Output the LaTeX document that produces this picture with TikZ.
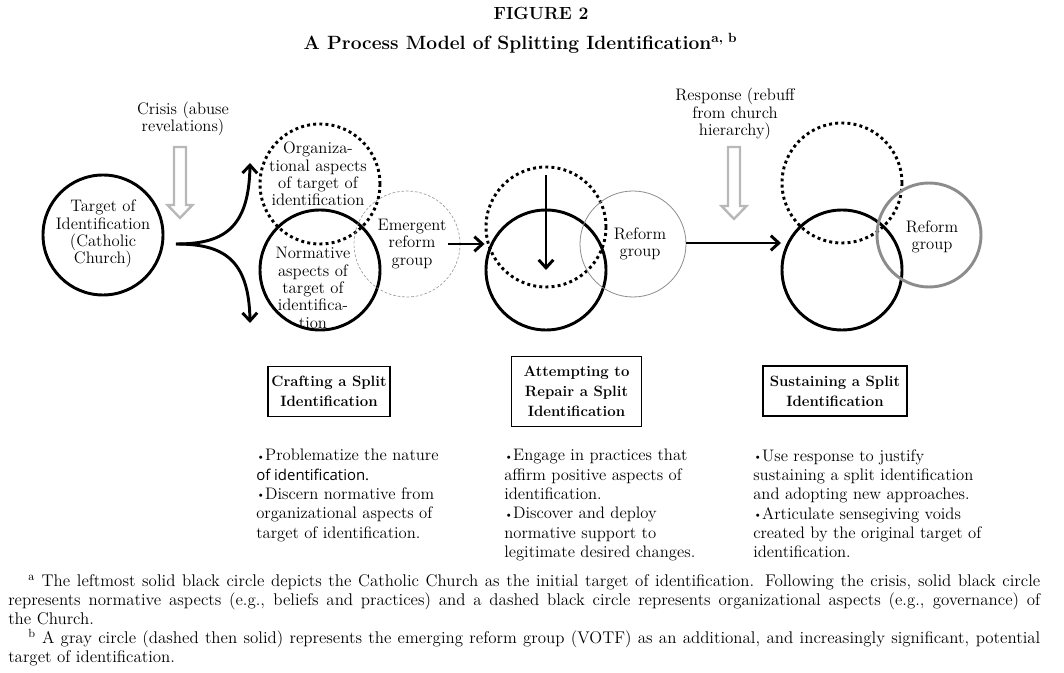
\documentclass[tikz,border=0pt]{standalone}
\usepackage{fontspec}
\newfontfamily\plainsans{Open Sans}
\usetikzlibrary{arrows.meta}

\tikzset{
  lbl/.style={align=center, inner sep=0pt, font=\fontsize{12.5}{13}\selectfont},
  bullets/.style={align=left, inner sep=0pt, anchor=north west, font=\fontsize{12.5}{14.5}\selectfont},
  stagebox/.style={draw, line width=0.8pt, align=center, inner sep=0pt, font=\fontsize{11.2}{15}\selectfont\bfseries},
  ring/.style={circle, draw, line width=2.2pt, minimum size=90pt, inner sep=0pt},
  dotring/.style={ring, dash pattern=on 2.2pt off 2.4pt},
  greyring/.style={circle, draw=black!45, line width=0.6pt, minimum size=79.5pt, inner sep=0pt},
  dashring/.style={greyring, draw=black!40, line width=0.5pt, dash pattern=on 2pt off 1.4pt},
  thickgrey/.style={greyring, line width=2.2pt, minimum size=78pt},
  arr/.style={line width=2.2pt, -{Straight Barb[length=6pt, width=11pt]}},
  hollow/.style={draw=black!28, line width=1.8pt, fill=white, line join=miter}
}
\newcommand{\dotitem}{\raisebox{0.5pt}{\scalebox{0.7}{\textbullet}}}

\begin{document}
\begin{tikzpicture}[x=0.75pt, y=-0.75pt]
    \useasboundingbox (0,0) rectangle (1064,673);

    % Title
    \node[font=\fontsize{13.2}{15}\selectfont\bfseries] (figno) at (541,13) {FIGURE 2};
    \node[font=\fontsize{14.4}{15}\selectfont\bfseries, anchor=west] (title) at (299,43) {A Process Model of Splitting Identification\textsuperscript{a, b}};

    % Stage 0: the church as one target
    \node[ring] (church) at (103,235) {};
    \node[lbl] (churchtxt) at (103,234) {Target of\\Identification\\(Catholic\\Church)};

    % Crisis input
    \node[lbl] (crisis) at (183,119) {Crisis (abuse\\revelations)};
    \coordinate (crisistop) at (180,147);
    \draw[hollow] (crisistop) ++(-6,0) -- ++(12,0) -- ++(0,58) -- ++(6.5,0) -- ++(-12.5,13) -- ++(-12.5,-13) -- ++(6.5,0) -- cycle;

    % Fork into two aspects
    \coordinate (fork) at (176,244);
    \coordinate (forkup) at (250,163);
    \coordinate (forkdown) at (250,323);
    \draw[arr] (fork) .. controls (222,244) and (249,230) .. (forkup);
    \draw[arr] (fork) .. controls (222,244) and (249,258) .. (forkdown);

    % Stage 1: crafting a split
    \node[dotring] (org) at (320,184) {};
    \node[ring] (norm) at (320,270) {};
    \node[dashring] (emerg) at (407,244) {};
    \node[lbl] (orgtxt) at (318,174) {Organiza-\\tional aspects\\of target of\\identification};
    \node[lbl] (normtxt) at (313,288) {Normative\\aspects of\\target of\\identifica-\\tion};
    \node[lbl] (emergtxt) at (412,244) {Emergent\\reform\\group};

    % Stage 2: attempting to repair
    \node[dotring] (midorg) at (546,227) {};
    \node[ring] (midnorm) at (546,270) {};
    \node[greyring] (midref) at (633,244) {};
    \node[lbl] (midreftxt) at (640,244) {Reform\\group};
    \draw[arr] ([xshift=1pt]emergtxt.east) -- (midorg.west |- emergtxt);
    \draw[arr] ([yshift=-7pt]midorg.north) -- (midnorm.center);

    % Response input
    \node[lbl] (response) at (735,114) {Response (rebuff\\from church\\hierarchy)};
    \coordinate (responsetop) at (734,147);
    \draw[hollow] (responsetop) ++(-6,0) -- ++(12,0) -- ++(0,59) -- ++(6.5,0) -- ++(-12.5,13) -- ++(-12.5,-13) -- ++(6.5,0) -- cycle;

    % Stage 3: sustaining the split
    \coordinate (stagein) at (781,243);
    \node[dotring] (endorg) at (842,183) {};
    \node[ring] (endnorm) at (842,270) {};
    \node[thickgrey] (endref) at (929,235) {};
    \node[lbl] (endreftxt) at (932,237) {Reform\\group};
    \draw[arr] (midref.east |- stagein) -- (stagein);

    % Stage labels
    \node[stagebox, minimum width=91.5pt, minimum height=37pt] (craft) at (329,391.5) {Crafting a Split\\Identification};
    \node[stagebox, minimum width=98pt, minimum height=52pt] (repair) at (576.5,391.5) {Attempting to\\Repair a Split\\Identification};
    \node[stagebox, minimum width=108pt, minimum height=37.5pt] (sustain) at (835,391) {Sustaining a Split\\Identification};

    % Practices per stage
    \node[bullets] (craftlist) at (256,449) {\dotitem Problematize the nature\\{\plainsans\fontsize{11.2}{14.5}\selectfont of identification.}\\\dotitem Discern normative from\\organizational aspects of\\target of identification.};
    \node[bullets] (repairlist) at (504,449) {\dotitem Engage in practices that\\affirm positive aspects of\\identification.\\\dotitem Discover and deploy\\normative support to\\legitimate desired changes.};
    \node[bullets] (sustainlist) at (753,449) {\dotitem Use response to justify\\sustaining a split identification\\and adopting new approaches.\\\dotitem Articulate sensegiving voids\\created by the original target of\\identification.};

    % Notes
    \node[anchor=north west, inner sep=0pt, text width=774pt, align=justify, font=\fontsize{12.7}{14.3}\selectfont] (notes) at (8,574) {\hspace*{15pt}\textsuperscript{a} The leftmost solid black circle depicts the Catholic Church as the initial target of identification. Following the crisis, solid black circle\linebreak represents normative aspects (e.g., beliefs and practices) and a dashed black circle represents organizational aspects (e.g., governance) of\linebreak the Church.\par\hspace*{15pt}\textsuperscript{b} A gray circle (dashed then solid) represents the emerging reform group (VOTF) as an additional, and increasingly significant, potential\linebreak target of identification.};
\end{tikzpicture}
\end{document}
